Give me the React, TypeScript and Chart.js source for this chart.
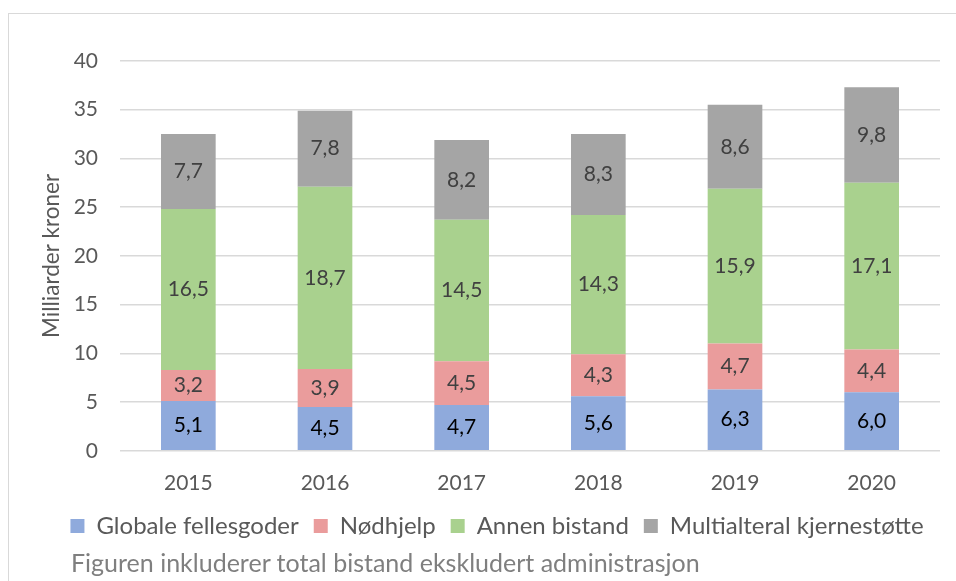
import React, { useEffect, useRef } from "react";
import { Chart, registerables } from "chart.js";

Chart.register(...registerables);

const years = ["2015", "2016", "2017", "2018", "2019", "2020"];
const globale = [5.1, 4.5, 4.7, 5.6, 6.3, 6.0];
const nodhjelp = [3.2, 3.9, 4.5, 4.3, 4.7, 4.4];
const annen = [16.5, 18.7, 14.5, 14.3, 15.9, 17.1];
const multi = [7.7, 7.8, 8.2, 8.3, 8.6, 9.8];
const seriesNames = ["Globale fellesgoder", "Nødhjelp", "Annen bistand", "Multialteral kjernestøtte"];
const seriesColors = ["#8FAADC", "#EA9C9C", "#A9D18E", "#A5A5A5"];
const labelColors = ["#000000", "#404040", "#404040", "#404040"];
const yTicks = [0, 5, 10, 15, 20, 25, 30, 35, 40];
const yTitle = "Milliarder kroner";
const footnote = "Figuren inkluderer total bistand ekskludert administrasjon";

const FONT = "Lato, 'Open Sans', sans-serif";

const barLabels = {
  id: "barLabels",
  afterDatasetsDraw(chart: any) {
    const ctx = chart.ctx;
    ctx.save();
    ctx.font = `21px ${FONT}`;
    ctx.textAlign = "center";
    ctx.textBaseline = "middle";
    chart.data.datasets.forEach((ds: any, i: number) => {
      const meta = chart.getDatasetMeta(i);
      meta.data.forEach((el: any, j: number) => {
        const v = ds.data[j] as number;
        const txt = v.toFixed(1).replace(".", ",");
        ctx.fillStyle = labelColors[i];
        ctx.fillText(txt, el.x, (el.y + el.base) / 2);
      });
    });
    ctx.restore();
  },
};

const legendShift = {
  id: "legendShift",
  afterLayout(chart: any) {
    const lg = chart.legend;
    if (lg) {
      lg.left += 8;
      lg.right += 8;
      lg.top -= 9;
      lg.bottom -= 9;
    }
  },
};

export default function App() {
  const ref = useRef<HTMLCanvasElement>(null);
  useEffect(() => {
    if (!ref.current) return;
    const data = [globale, nodhjelp, annen, multi];
    const chart = new Chart(ref.current, {
      type: "bar",
      data: {
        labels: years,
        datasets: data.map((d, i) => ({
          label: seriesNames[i],
          data: d,
          backgroundColor: seriesColors[i],
          borderWidth: 0,
          categoryPercentage: 1,
          barPercentage: 0.4,
        })),
      },
      options: {
        animation: false,
        responsive: false,
        maintainAspectRatio: false,
        layout: { padding: { top: 61, right: 16, left: 38, bottom: 4 } },
        plugins: {
          tooltip: { enabled: false },
          legend: {
            position: "bottom",
            labels: {
              boxWidth: 14,
              boxHeight: 14,
              padding: 15,
              color: "#595959",
              font: { family: FONT, size: 24 },
            },
          },
        },
        scales: {
          x: {
            stacked: true,
            grid: { display: false },
            border: { display: false },
            ticks: { color: "#595959", font: { family: FONT, size: 21 }, padding: 12 },
          },
          y: {
            stacked: true,
            min: 0,
            max: 40,
            afterBuildTicks: (s: any) => {
              s.ticks = yTicks.map((v) => ({ value: v }));
            },
            afterFit: (s: any) => {
              s.width = 82;
            },
            grid: { color: "#D9D9D9", lineWidth: 1.5, drawTicks: false },
            border: { display: false },
            ticks: { color: "#595959", font: { family: FONT, size: 21 }, padding: 22 },
            title: {
              display: true,
              text: yTitle,
              color: "#595959",
              font: { family: FONT, size: 22.5 },
              padding: 0,
            },
          },
        },
      },
      plugins: [barLabels, legendShift],
    });
    return () => chart.destroy();
  }, []);

  return (
    <div style={{ position: "absolute", left: 0, top: 0, width: 956, height: 581, overflow: "hidden", background: "#fff" }}>
      <div
        style={{
          position: "absolute",
          left: 8,
          top: 13,
          width: 960,
          height: 600,
          borderLeft: "1.5px solid #D9D9D9",
          borderTop: "1.5px solid #D9D9D9",
        }}
      />
      <canvas ref={ref} width={956} height={561} style={{ position: "absolute", left: 0, top: 0, width: 956, height: 561 }} />
      <div
        style={{
          position: "absolute",
          left: 71,
          top: 547,
          fontFamily: FONT,
          fontSize: 25,
          color: "#7F7F7F",
          lineHeight: "30px",
          whiteSpace: "nowrap",
        }}
      >
        {footnote}
      </div>
    </div>
  );
}
